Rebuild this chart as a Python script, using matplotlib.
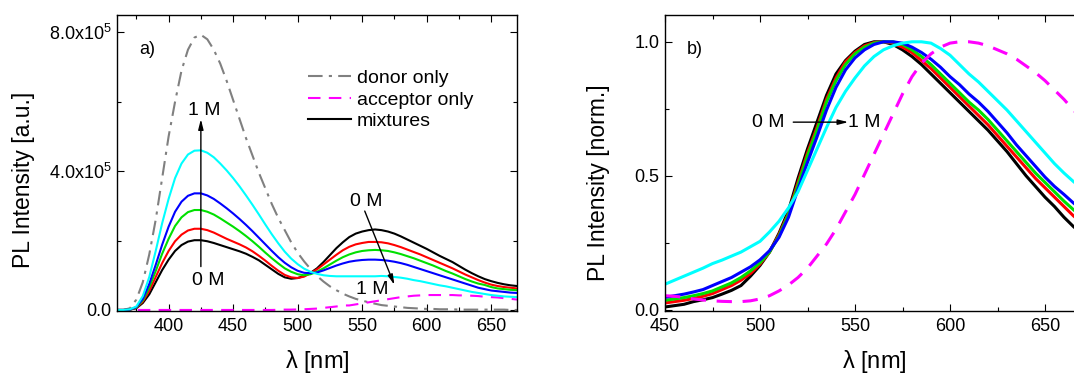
import numpy as np
import matplotlib
matplotlib.use("Agg")
import matplotlib.pyplot as plt
from matplotlib.ticker import FixedLocator, MultipleLocator

plt.rcParams['font.family'] = ['Liberation Sans', 'DejaVu Sans']
plt.rcParams['mathtext.fontset'] = 'custom'
plt.rcParams['mathtext.rm'] = 'Liberation Sans'

# ---- panel a: absolute spectra (units of 1e5) ----
wl_a = np.arange(360, 675, 5)

donor = [0, 0, 0.05, 0.3, 0.8, 1.6, 2.6, 3.8, 5.0, 6.0, 6.9, 7.5, 7.85, 7.93, 7.8, 7.5,
         7.1, 6.6, 6.05, 5.5, 4.95, 4.45, 3.95, 3.5, 3.05, 2.65, 2.3, 1.95, 1.65, 1.4,
         1.18, 0.98, 0.82, 0.68, 0.57, 0.47, 0.39, 0.32, 0.27, 0.22, 0.18, 0.14, 0.12,
         0.1, 0.08, 0.06, 0.05, 0.04, 0.03, 0.03, 0.02, 0.02, 0.02, 0.01, 0.01, 0.01,
         0.01, 0.01, 0.01, 0.01, 0.01, 0.0, 0.0]
acceptor = [0]*25 + [0.005, 0.01, 0.01, 0.015, 0.02, 0.03, 0.04, 0.06, 0.08, 0.1, 0.13,
                     0.13, 0.16, 0.19, 0.22, 0.25, 0.28, 0.31, 0.34, 0.37, 0.39, 0.41, 0.42,
                     0.43, 0.43, 0.43, 0.43, 0.43, 0.42, 0.42, 0.41, 0.4, 0.38, 0.37, 0.36,
                     0.34, 0.32, 0.3]
mix_0 = [0, 0, 0.01, 0.05, 0.2, 0.45, 0.8, 1.15, 1.45, 1.7, 1.87, 1.97, 2.01, 2.01, 1.98,
         1.93, 1.87, 1.81, 1.75, 1.69, 1.62, 1.53, 1.43, 1.3, 1.17, 1.04, 0.94, 0.9, 0.92,
         0.98, 1.07, 1.2, 1.38, 1.58, 1.78, 1.95, 2.1, 2.2, 2.26, 2.3, 2.32, 2.3, 2.26, 2.2,
         2.12, 2.03, 1.94, 1.85, 1.76, 1.66, 1.56, 1.47, 1.38, 1.27, 1.16, 1.06, 0.97, 0.89,
         0.83, 0.78, 0.74, 0.71, 0.69]
mix_1 = [0, 0, 0.01, 0.06, 0.24, 0.55, 0.95, 1.35, 1.7, 1.98, 2.17, 2.29, 2.34, 2.34, 2.3,
         2.23, 2.14, 2.05, 1.97, 1.89, 1.8, 1.69, 1.56, 1.42, 1.27, 1.13, 1.01, 0.94, 0.92,
         0.96, 1.06, 1.17, 1.31, 1.45, 1.59, 1.72, 1.82, 1.89, 1.93, 1.96, 1.96, 1.95, 1.92,
         1.87, 1.81, 1.74, 1.67, 1.6, 1.52, 1.44, 1.36, 1.28, 1.2, 1.11, 1.02, 0.94, 0.86,
         0.79, 0.73, 0.69, 0.66, 0.64, 0.62]
mix_2 = [0, 0, 0.01, 0.07, 0.28, 0.65, 1.12, 1.62, 2.05, 2.42, 2.67, 2.82, 2.88, 2.88, 2.83,
         2.75, 2.64, 2.52, 2.4, 2.27, 2.13, 1.98, 1.82, 1.65, 1.49, 1.34, 1.2, 1.1, 1.03,
         1.0, 1.03, 1.1, 1.2, 1.31, 1.42, 1.52, 1.6, 1.66, 1.7, 1.72, 1.73, 1.72, 1.7, 1.66,
         1.61, 1.55, 1.49, 1.42, 1.35, 1.28, 1.2, 1.12, 1.05, 0.97, 0.89, 0.82, 0.76, 0.72,
         0.66, 0.62, 0.6, 0.58, 0.57]
mix_3 = [0, 0, 0.01, 0.08, 0.32, 0.75, 1.3, 1.88, 2.4, 2.83, 3.12, 3.29, 3.36, 3.36, 3.3,
         3.2, 3.07, 2.93, 2.78, 2.62, 2.45, 2.27, 2.08, 1.89, 1.7, 1.52, 1.36, 1.23, 1.13,
         1.07, 1.06, 1.08, 1.14, 1.21, 1.28, 1.34, 1.39, 1.42, 1.44, 1.45, 1.45, 1.44, 1.42,
         1.39, 1.35, 1.3, 1.24, 1.18, 1.12, 1.06, 1.0, 0.94, 0.88, 0.82, 0.76, 0.7, 0.64,
         0.6, 0.56, 0.54, 0.52, 0.5, 0.49]
mix_4 = [0, 0, 0.02, 0.1, 0.4, 0.95, 1.7, 2.5, 3.2, 3.8, 4.22, 4.48, 4.59, 4.6, 4.53, 4.4,
         4.22, 4.02, 3.8, 3.56, 3.3, 3.03, 2.75, 2.46, 2.18, 1.92, 1.68, 1.48, 1.32, 1.19,
         1.1, 1.04, 1.0, 0.98, 0.97, 0.97, 0.97, 0.97, 0.97, 0.97, 0.97, 0.98, 0.97, 0.95,
         0.93, 0.9, 0.86, 0.83, 0.79, 0.75, 0.71, 0.68, 0.64, 0.6, 0.56, 0.52, 0.49, 0.46,
         0.43, 0.41, 0.39, 0.38, 0.37]

# ---- panel b: normalised spectra ----
wl_b = np.arange(450, 675, 5)

norm_0 = [0.01, 0.015, 0.02, 0.03, 0.037, 0.045, 0.058, 0.072, 0.09, 0.125, 0.165, 0.215,
          0.285, 0.37, 0.49, 0.6, 0.7, 0.8, 0.88, 0.93, 0.965, 0.99, 1.0, 1.0, 0.99, 0.97,
          0.945, 0.915, 0.88, 0.845, 0.81, 0.775, 0.74, 0.705, 0.67, 0.63, 0.59, 0.545,
          0.5, 0.46, 0.42, 0.385, 0.345, 0.31, 0.28]
norm_1 = [0.025, 0.03, 0.035, 0.042, 0.05, 0.06, 0.075, 0.09, 0.11, 0.135, 0.17, 0.215,
          0.28, 0.36, 0.475, 0.585, 0.68, 0.785, 0.865, 0.925, 0.96, 0.985, 0.997, 1.0,
          0.995, 0.98, 0.96, 0.93, 0.9, 0.865, 0.83, 0.795, 0.76, 0.725, 0.69, 0.65, 0.61,
          0.57, 0.53, 0.49, 0.455, 0.42, 0.385, 0.35, 0.32]
norm_2 = [0.035, 0.04, 0.045, 0.052, 0.06, 0.07, 0.085, 0.1, 0.12, 0.145, 0.175, 0.215,
          0.275, 0.355, 0.465, 0.575, 0.67, 0.775, 0.855, 0.915, 0.955, 0.98, 0.995, 1.0,
          1.0, 0.99, 0.97, 0.945, 0.915, 0.88, 0.845, 0.81, 0.775, 0.745, 0.71, 0.67, 0.63,
          0.59, 0.55, 0.51, 0.475, 0.44, 0.405, 0.373, 0.345]
norm_3 = [0.046, 0.052, 0.058, 0.066, 0.075, 0.09, 0.105, 0.12, 0.14, 0.16, 0.186, 0.22,
          0.27, 0.345, 0.45, 0.55, 0.645, 0.745, 0.83, 0.895, 0.94, 0.97, 0.99, 1.0, 1.0,
          0.995, 0.98, 0.96, 0.935, 0.905, 0.87, 0.84, 0.805, 0.775, 0.74, 0.7, 0.66, 0.615,
          0.575, 0.535, 0.495, 0.46, 0.43, 0.398, 0.37]
norm_4 = [0.095, 0.11, 0.125, 0.14, 0.155, 0.172, 0.185, 0.2, 0.215, 0.235, 0.255, 0.29,
          0.33, 0.38, 0.44, 0.52, 0.6, 0.68, 0.755, 0.815, 0.865, 0.91, 0.945, 0.97, 0.985,
          0.995, 1.0, 1.0, 0.995, 0.975, 0.95, 0.915, 0.88, 0.85, 0.815, 0.78, 0.745, 0.705,
          0.665, 0.625, 0.585, 0.545, 0.51, 0.478, 0.45]
norm_acc = [0.052, 0.05, 0.046, 0.04, 0.036, 0.033, 0.031, 0.03, 0.03, 0.033, 0.04, 0.052,
            0.07, 0.092, 0.12, 0.155, 0.2, 0.245, 0.3, 0.365, 0.43, 0.505, 0.58, 0.655,
            0.73, 0.805, 0.87, 0.92, 0.955, 0.98, 0.995, 1.0, 1.0, 0.995, 0.985, 0.97, 0.955,
            0.935, 0.91, 0.885, 0.855, 0.82, 0.785, 0.745, 0.71]

mix_colors = ['black', '#ff0000', '#00e000', '#0000ff', '#00ffff']
mix_a = [mix_0, mix_1, mix_2, mix_3, mix_4]
mix_b = [norm_0, norm_1, norm_2, norm_3, norm_4]

fig = plt.figure(figsize=(10.74, 3.76), dpi=100)
ax1 = fig.add_axes([117/1074, 65/376, 400/1074, 296/376])
ax2 = fig.add_axes([665/1074, 65/376, 475/1074, 296/376])  # runs past the right edge

# panel a
donor_line, = ax1.plot(wl_a, np.array(donor)*1e5, color='#808080', lw=1.5,
                       dashes=(7, 3, 1.5, 3), label='donor only')
acc_line, = ax1.plot(wl_a, np.array(acceptor)*1e5, color='#ff00ff', lw=1.5,
                     dashes=(6, 4), label='acceptor only')
mix_lines = []
for c, y in zip(mix_colors, mix_a):
    l, = ax1.plot(wl_a, np.array(y)*1e5, color=c, lw=1.5)
    mix_lines.append(l)
mix_lines[0].set_label('mixtures')

ax1.set_xlim(360, 670)
ax1.set_ylim(-3000, 850000)
ax1.xaxis.set_major_locator(MultipleLocator(50))
ax1.xaxis.set_minor_locator(MultipleLocator(25))
ax1.yaxis.set_major_locator(FixedLocator([0, 4e5, 8e5]))
ax1.yaxis.set_minor_locator(FixedLocator([2e5, 6e5]))
ax1.set_yticklabels(['0.0', r'$\mathregular{4.0x10^5}$', r'$\mathregular{8.0x10^5}$'])
ax1.set_ylabel('PL Intensity [a.u.]', fontsize=16.5)
ax1.yaxis.set_label_coords(-0.2325, 0.443)

ax1.legend(handles=[donor_line, acc_line, mix_lines[0]], loc='upper left',
           bbox_to_anchor=(0.478, 0.816), frameon=False, fontsize=14,
           handlelength=2.2, handletextpad=0.3, labelspacing=0.2, borderpad=0,
           borderaxespad=0)

ax1.text(0.055, 0.882, 'a)', transform=ax1.transAxes, fontsize=13, va='center')
arr = dict(arrowstyle='-|>,head_length=0.6,head_width=0.15', color='black', lw=1,
           shrinkA=0, shrinkB=0)
ax1.annotate('', xy=(425, 5.5e5), xytext=(425, 1.25e5), arrowprops=arr)
ax1.text(428, 5.75e5, '1 M', fontsize=14, ha='center', va='center')
ax1.text(431, 0.84e5, '0 M', fontsize=14, ha='center', va='center')
ax1.annotate('', xy=(575, 0.72e5), xytext=(552, 2.85e5), arrowprops=arr)
ax1.text(553, 3.12e5, '0 M', fontsize=14, ha='center', va='center')
ax1.text(558, 0.6e5, '1 M', fontsize=14, ha='center', va='center')

# panel b
for c, y in zip(mix_colors, mix_b):
    ax2.plot(wl_b, y, color=c, lw=2.2)
ax2.plot(wl_b, norm_acc, color='#ff00ff', lw=2.2, dashes=(5, 3.5))

ax2.set_xlim(450, 700)
ax2.set_ylim(-0.005, 1.1)
ax2.xaxis.set_major_locator(FixedLocator([450, 500, 550, 600, 650]))
ax2.xaxis.set_minor_locator(FixedLocator([475, 525, 575, 625, 675]))
ax2.yaxis.set_major_locator(FixedLocator([0, 0.5, 1.0]))
ax2.yaxis.set_minor_locator(FixedLocator([0.25, 0.75]))
ax2.set_yticklabels(['0.0', '0.5', '1.0'])
ax2.set_ylabel('PL Intensity [norm.]', fontsize=16.5)
ax2.yaxis.set_label_coords(-0.139, 0.432)
ax2.text(0.046, 0.882, 'b)', transform=ax2.transAxes, fontsize=13, va='center')
ax2.annotate('', xy=(546.5, 0.70), xytext=(517.5, 0.70), arrowprops=arr)
ax2.text(504.5, 0.70, '0 M', fontsize=14, ha='center', va='center')
ax2.text(546.5, 0.70, '1 M', fontsize=14, ha='left', va='center')

for ax in (ax1, ax2):
    ax.set_xlabel(r'$\mathregular{\lambda}$ [nm]', fontsize=17)
    ax.xaxis.label.set_va('center')
    ax.yaxis.label.set_va('center')
    ax.yaxis.label.set_ha('center')
    ax.tick_params(which='both', direction='in', top=True, right=True, labelsize=13)
    ax.tick_params(which='major', length=5, width=0.8)
    ax.tick_params(which='minor', length=3, width=0.8)
    ax.tick_params(axis='x', pad=5)
    ax.tick_params(axis='y', pad=4)
    for s in ax.spines.values():
        s.set_linewidth(1)
ax1.xaxis.set_label_coords(0.5, -0.172)
ax2.xaxis.set_label_coords((874 - 665) / 475, -0.172)

fig.savefig('out.png', dpi=100)
